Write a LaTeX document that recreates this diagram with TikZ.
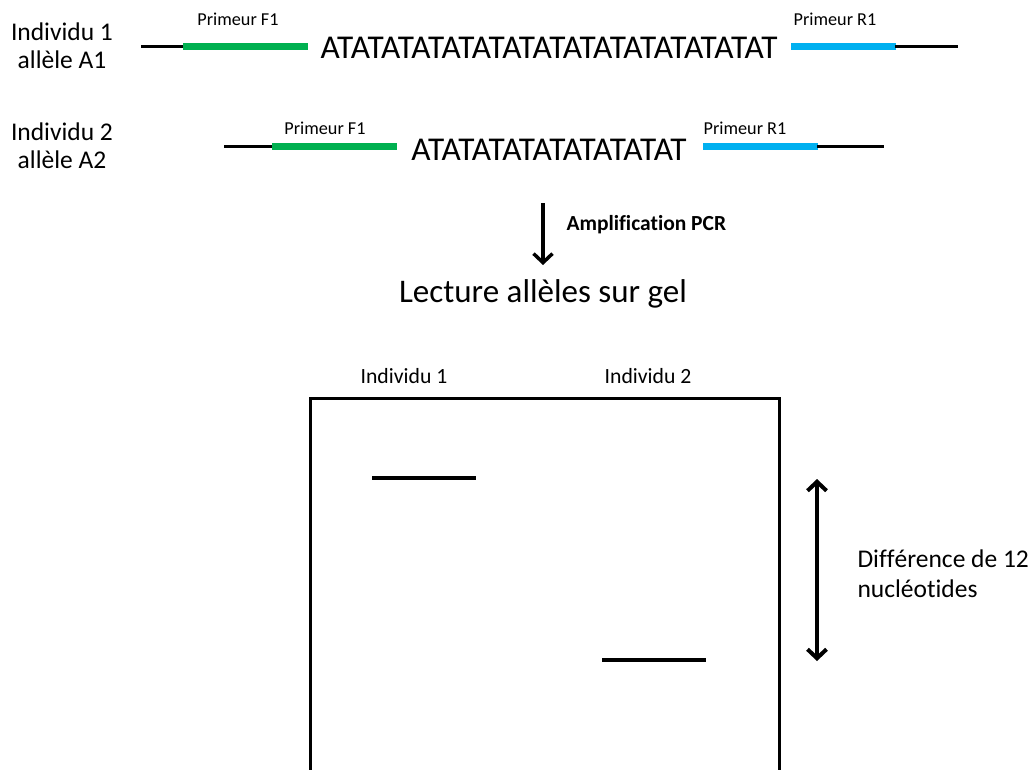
\documentclass[tikz,border=0pt]{standalone}
\usepackage{fontspec}
\setmainfont{Carlito}[Ligatures={NoCommon,NoRare,NoContextual}]
\usepackage{tikz}
\usetikzlibrary{arrows.meta, positioning}
\definecolor{fwdgreen}{RGB}{0,176,80}
\definecolor{revblue}{RGB}{0,176,240}
\tikzset{
  strand/.style={line width=3.5pt, black},
  fwd/.style={line width=6.5pt, fwdgreen},
  rev/.style={line width=6.5pt, revblue},
  band/.style={line width=3.5pt, black},
  who/.style={anchor=base, font=\fontsize{25.5}{30}\selectfont},
  primlabel/.style={anchor=base, font=\fontsize{18.2}{22}\selectfont},
  seq/.style={anchor=base, font=\fontsize{33.3}{38}\selectfont},
  chev/.style={-{Straight Barb[length=9pt, width=19pt]}}
}

\begin{document}
\begin{tikzpicture}[x=1pt, y=-1pt]
  \useasboundingbox (0,0) rectangle (1035,769);
  % allele A1
  \node[who] (ind1) at (62,40) {Individu 1};
  \node[who] (allA1) at (62,68) {allèle A1};
  \draw[strand] (141,46.5) -- (184,46.5);
  \draw[fwd] (183,46.5) -- (308,46.5);
  \draw[rev] (791,46.5) -- (896,46.5);
  \draw[strand] (895,46.5) -- (958,46.5);
  \node[primlabel] (f1a) at (238,25) {Primeur F1};
  \node[primlabel] (r1a) at (835,25) {Primeur R1};
  \node[seq] (seqA1) at (549,58) {ATATATATATATATATATATATATATATAT};
  % allele A2
  \node[who] (ind2) at (62,140) {Individu 2};
  \node[who] (allA2) at (62,168) {allèle A2};
  \draw[strand] (224,146.5) -- (273,146.5);
  \draw[fwd] (272,146.5) -- (397,146.5);
  \draw[rev] (703,146.5) -- (818,146.5);
  \draw[strand] (817,146.5) -- (884,146.5);
  \node[primlabel] (f1b) at (325,134) {Primeur F1};
  \node[primlabel] (r1b) at (745,134) {Primeur R1};
  \node[seq] (seqA2) at (549,160) {ATATATATATATATATAT};
  % PCR
  \coordinate (pcrtop) at (543,203);
  \coordinate (pcrtip) at (543,265);
  \draw[line width=3.5pt, chev] (pcrtop) -- (pcrtip);
  \node[anchor=base west, font=\fontsize{21.5}{26}\selectfont\bfseries] (pcr) at (563,230) {Amplif\kern0pt ication PCR};
  \node[anchor=base, font=\fontsize{33}{38}\selectfont] (lecture) at (543,302) {Lecture allèles sur gel};
  % gel
  \draw[line width=3pt] (310,775) -- (310,398) -- (779,398) -- (779,775);
  \node[anchor=base, font=\fontsize{21.7}{26}\selectfont] (lane1) at (404,383) {Individu 1};
  \node[anchor=base, font=\fontsize{21.7}{26}\selectfont] (lane2) at (648,383) {Individu 2};
  \draw[band] (372,478) -- (476,478);
  \draw[band] (602,660) -- (706,660);
  \coordinate (diffhi) at (817,479);
  \coordinate (difflo) at (817,661);
  \draw[line width=4pt, {Straight Barb[length=9pt, width=19pt]}-{Straight Barb[length=9pt, width=19pt]}] (diffhi) -- (difflo);
  \node[anchor=base west, align=left, font=\fontsize{25.5}{30}\selectfont] (diff) at (854,597) {Dif\kern0pt f\kern0pt érence de 12\\nucléot\kern0pt ides};
\end{tikzpicture}
\end{document}
